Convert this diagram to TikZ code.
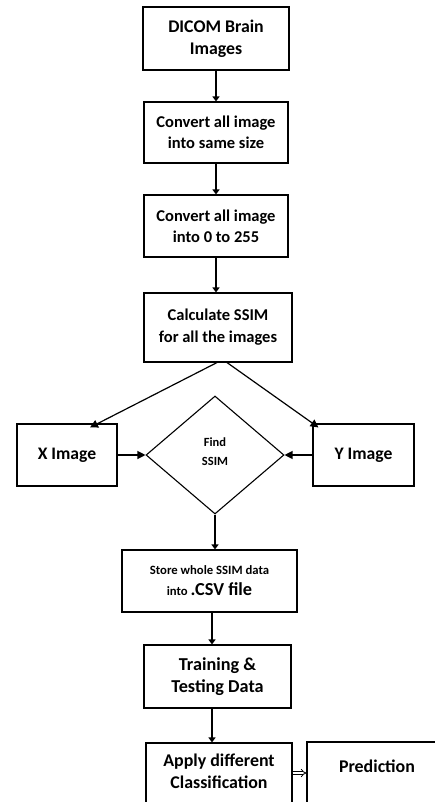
\documentclass[tikz,border=0pt]{standalone}
\usepackage{fontspec}
\setmainfont{Carlito}
\usetikzlibrary{arrows.meta,shapes.geometric}

\begin{document}
\begin{tikzpicture}[x=1pt,y=-1pt,
  box/.style={draw,line width=1.1pt,align=center,font=\bfseries,inner sep=2pt},
  flow/.style={line width=2.6pt,-{Triangle[length=5pt,width=7pt]}},
  side/.style={line width=1.2pt,-{Triangle[length=8pt,width=8pt]}}]
\useasboundingbox (0,0) rectangle (435,802);
\clip (0,0) rectangle (435,802);
% main column
\node[box,minimum width=146pt,minimum height=63pt,font=\bfseries\fontsize{17.8}{22}\selectfont] (dicom) at (216,38.5) {DICOM Brain\\Images};
\node[box,minimum width=144pt,minimum height=61pt,font=\bfseries\fontsize{16.5}{21}\selectfont] (resize) at (216,132.5) {Convert all image\\into same size};
\node[box,minimum width=144pt,minimum height=62pt,font=\bfseries\fontsize{16.5}{21}\selectfont] (scale) at (216,226) {Convert all image\\into 0 to 255};
\node[box,minimum width=148pt,minimum height=69pt,font=\bfseries\fontsize{16.5}{22}\selectfont] (ssim) at (218,327.5) {Calculate SSIM\\for all the images};
% comparison row
\node[box,minimum width=100pt,minimum height=62pt,font=\bfseries\fontsize{17.6}{21}\selectfont] (ximg) at (67,455) {X Image};
\node[box,minimum width=101pt,minimum height=62pt,font=\bfseries\fontsize{17.6}{21}\selectfont] (yimg) at (363.5,455) {Y Image};
\node[draw,diamond,line width=1.1pt,inner sep=0pt,minimum width=138pt,minimum height=118pt,align=center,text depth=6pt,font=\bfseries\fontsize{12.5}{19}\selectfont] (find) at (215,455) {Find\\SSIM};
% lower column
\node[box,minimum width=175pt,minimum height=62pt,font=\bfseries\fontsize{12.7}{21}\selectfont] (store) at (209.5,581) {Store whole SSIM data\\into {\fontsize{18.3}{21}\selectfont .CSV file}};
\node[box,minimum width=147pt,minimum height=63pt,font=\bfseries\fontsize{18.2}{22}\selectfont] (train) at (217.5,676.5) {Training \&\\Testing Data};
\node[box,minimum width=146pt,minimum height=72pt,font=\bfseries\fontsize{17.9}{22}\selectfont,text depth=16pt] (apply) at (219,779) {Apply different\\Classification};
\node[box,minimum width=140pt,minimum height=72pt,font=\bfseries\fontsize{17.9}{22}\selectfont,text depth=24pt] (pred) at (377,778) {Prediction};
% connectors
\draw[flow] (dicom) -- (resize);
\draw[flow] (resize) -- (scale);
\draw[flow] (scale.south) -- (scale.south |- ssim.north);
\draw[side] ([xshift=-1pt]ssim.south) -- ([xshift=23pt,yshift=-4pt]ximg.north);
\draw[side] ([xshift=9pt]ssim.south) -- ([xshift=-45pt,yshift=-4pt]yimg.north);
\draw[side] (ximg) -- (ximg -| find.west);
\draw[side] (yimg) -- (yimg -| find.east);
\draw[flow] (find.south) -- (find.south |- store.north);
\draw[flow] ([xshift=2.5pt]store.south) -- ([xshift=2.5pt]store.south |- train.north);
\draw[flow] ([xshift=-5.5pt]train.south) -- ([xshift=-5.5pt]train.south |- apply.north);
\draw[double,double distance=2pt,line width=0.8pt,-{Implies[length=4pt]}] ([yshift=6pt]apply.east) -- ([yshift=6pt]apply.east -| pred.west);
\end{tikzpicture}
\end{document}
